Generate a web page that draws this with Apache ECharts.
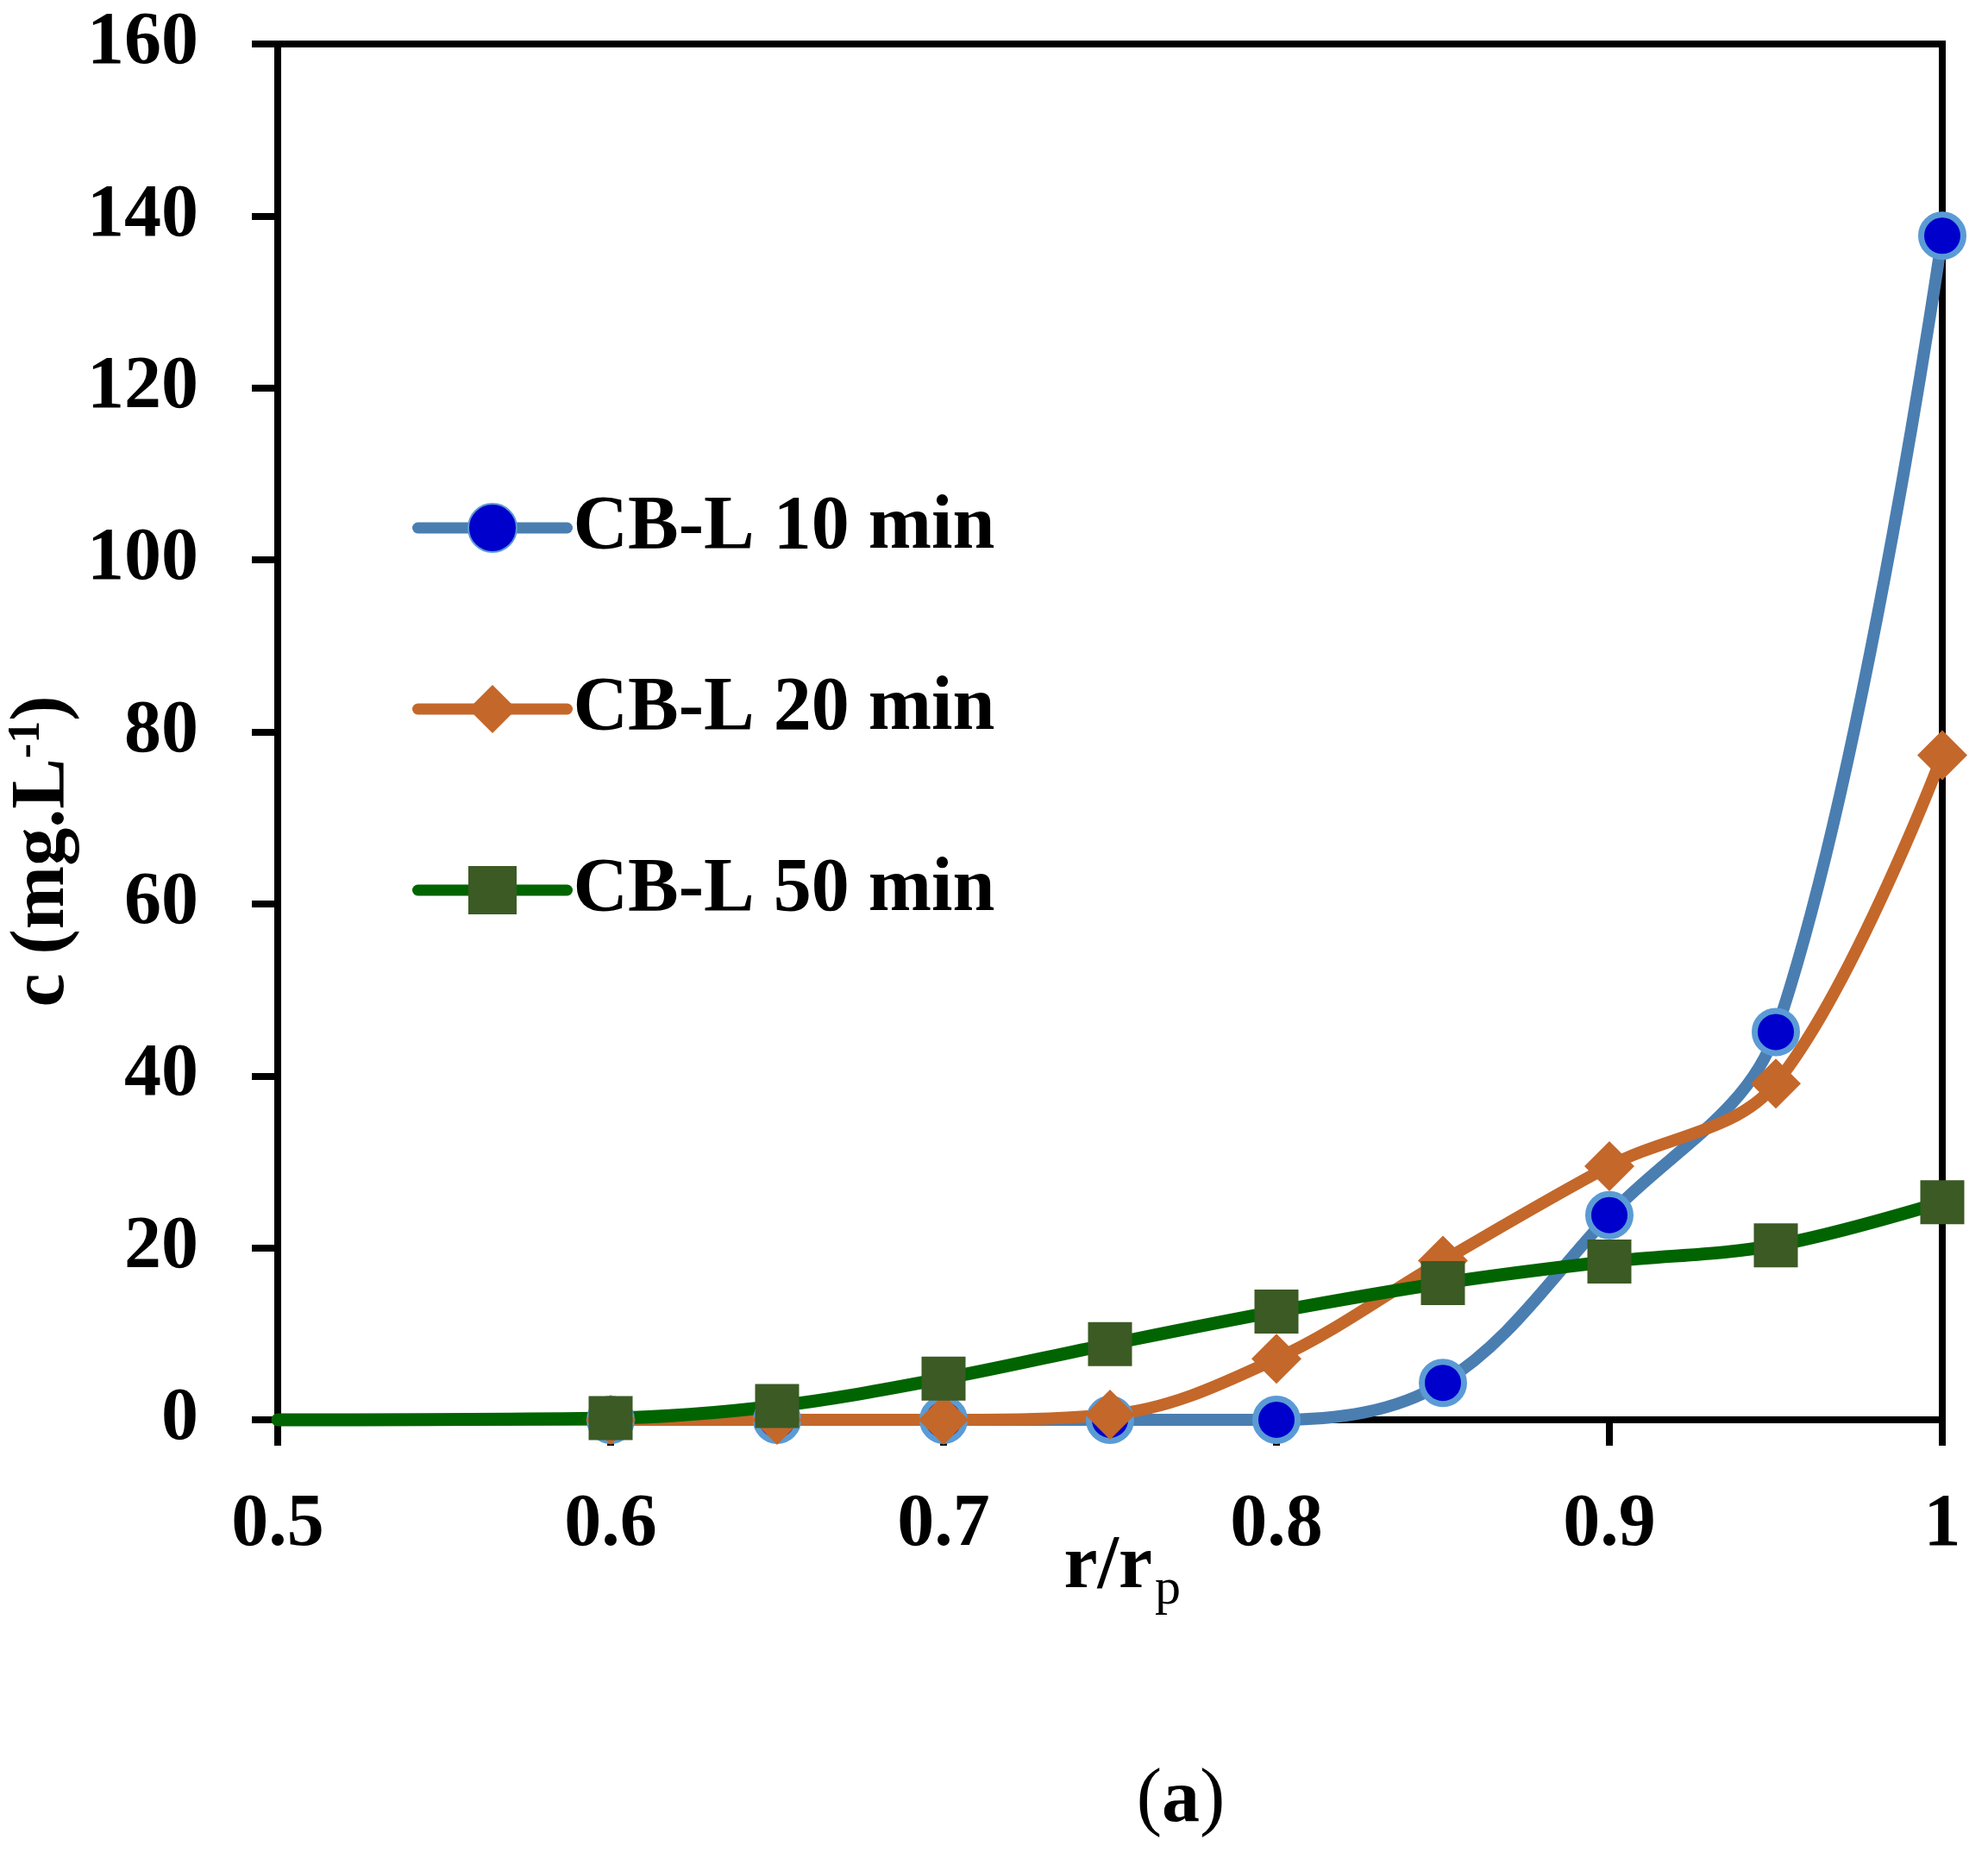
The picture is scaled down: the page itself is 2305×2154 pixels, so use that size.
<!DOCTYPE html>
<html>
<head>
<meta charset="utf-8">
<script src="https://cdn.jsdelivr.net/npm/echarts@6/dist/echarts.min.js"></script>
<style>
  html, body { margin: 0; padding: 0; background: #fff; }
  #chart { width: 2305px; height: 2154px; }
</style>
</head>
<body>
<div id="chart"></div>
<script>
// data (r/rp vs c in mg/L)
const xValues = [0.5, 0.6, 0.65, 0.7, 0.75, 0.8, 0.85, 0.9, 0.95, 1.0];
const cb10 = [0, 0, 0, 0, 0, 0, 4.3, 23.8, 45.1, 137.7];
const cb20 = [0, 0, 0, 0, 0.6, 7.1, 18.5, 29.5, 39.1, 77.3];
const cb50 = [0, 0.2, 1.6, 4.8, 8.8, 12.6, 15.9, 18.4, 20.3, 25.3];
const seriesNames = ['CB-L 10 min', 'CB-L 20 min', 'CB-L 50 min'];
const xTicks = [0.5, 0.6, 0.7, 0.8, 0.9, 1.0];

const FONT = '"Liberation Serif", "DejaVu Serif", serif';

// first point (0.5) has the line but no marker in the original
function toPoints(ys) {
  return xValues.map((x, i) => {
    if (i === 0) return { value: [x, ys[i]], symbol: 'none' };
    return [x, ys[i]];
  });
}

const chart = echarts.init(document.getElementById('chart'));

chart.setOption({
  animation: false,
  backgroundColor: '#fff',
  grid: {
    left: 322, right: 53, top: 51, bottom: 508,
    show: true, borderColor: '#000', borderWidth: 8
  },
  xAxis: {
    type: 'value', min: 0.5, max: 1.0, interval: 0.1,
    axisLine: { show: true, onZero: false, lineStyle: { color: '#000', width: 8 } },
    axisTick: { show: true, length: 30, lineStyle: { color: '#000', width: 8 } },
    splitLine: { show: false },
    axisLabel: {
      margin: 80, color: '#000', fontFamily: FONT, fontWeight: 'bold', fontSize: 86,
      formatter: v => (xTicks.indexOf(Math.round(v * 10) / 10) >= 0 ? String(Math.round(v * 10) / 10) : '')
    }
  },
  yAxis: {
    type: 'value', min: 0, max: 160, interval: 20,
    axisLine: { show: true, lineStyle: { color: '#000', width: 8 } },
    axisTick: { show: true, length: 30, lineStyle: { color: '#000', width: 8 } },
    splitLine: { show: false },
    axisLabel: { margin: 92, color: '#000', fontFamily: FONT, fontWeight: 'bold', fontSize: 86 }
  },
  legend: {
    orient: 'vertical', left: 473, top: 563,
    itemWidth: 173, itemHeight: 70, itemGap: 122,
    data: seriesNames,
    lineStyle: { width: 13, cap: 'round' },
    textStyle: { color: '#000', fontFamily: FONT, fontWeight: 'bold', fontSize: 88, padding: [0, 0, 0, 2] }
  },
  series: [
    {
      name: seriesNames[0], type: 'line', data: toPoints(cb10),
      smooth: 0.35, clip: false,
      symbol: 'circle', symbolSize: 49,
      lineStyle: { color: '#4A7EB1', width: 14, cap: 'round' },
      itemStyle: { color: '#0000CC', borderColor: '#5B9BD5', borderWidth: 7 }
    },
    {
      name: seriesNames[1], type: 'line', data: toPoints(cb20),
      smooth: 0.35, clip: false,
      symbol: 'diamond', symbolSize: 58,
      lineStyle: { color: '#C4672A', width: 14, cap: 'round' },
      itemStyle: { color: '#C4672A' }
    },
    {
      name: seriesNames[2], type: 'line', data: toPoints(cb50),
      smooth: 0.35, clip: false,
      symbol: 'rect', symbolSize: 51,
      lineStyle: { color: '#006400', width: 15, cap: 'round' },
      itemStyle: { color: '#3B5A24' }
    }
  ],
  graphic: [
    // y axis title, rotated
    {
      type: 'text', x: 50, y: 987, rotation: Math.PI / 2,
      style: {
        text: '{a|c (mg.L}{s|-1}{a|)}',
        align: 'center', verticalAlign: 'middle',
        rich: {
          a: { fontFamily: FONT, fontWeight: 'bold', fontSize: 88, lineHeight: 88, fill: '#000' },
          s: { fontFamily: FONT, fontWeight: 'bold', fontSize: 52, lineHeight: 52, verticalAlign: 'top', fill: '#000' }
        }
      }
    },
    // x axis title r/rp
    {
      type: 'text', x: 1336, y: 1817,
      style: { text: 'r/r', align: 'right', verticalAlign: 'middle', fontFamily: FONT, fontWeight: 'bold', fontSize: 88, fill: '#000' }
    },
    {
      type: 'text', x: 1339, y: 1843,
      style: { text: 'p', align: 'left', verticalAlign: 'middle', fontFamily: FONT, fontSize: 60, fill: '#000' }
    },
    // panel label
    {
      type: 'text', x: 1369, y: 2088,
      style: {
        text: '{p|(}{b|a}{p|)}', align: 'center', verticalAlign: 'middle',
        rich: {
          p: { fontFamily: FONT, fontWeight: 'normal', fontSize: 88, fill: '#000' },
          b: { fontFamily: FONT, fontWeight: 'bold', fontSize: 88, fill: '#000' }
        }
      }
    }
  ]
});
</script>
</body>
</html>
